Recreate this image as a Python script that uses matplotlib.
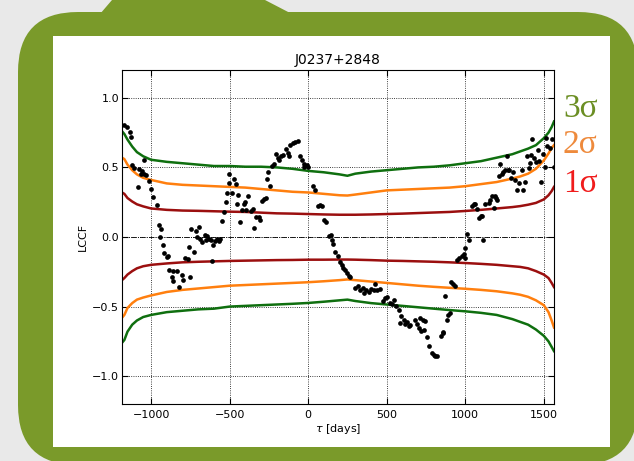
import matplotlib
matplotlib.use('Agg')
import matplotlib.pyplot as plt
from matplotlib.patches import FancyBboxPatch, Rectangle, Polygon

# lag grid for the significance envelopes (days)
tau_env = [-1185, -1170, -1150, -1120, -1090, -1050, -1000, -900, -800, -700,
           -600, -500, -400, -300, -200, -100, 0, 100, 200, 250, 300, 400,
           500, 600, 700, 800, 900, 1000, 1100, 1200, 1300, 1350, 1400, 1450,
           1500, 1530, 1550, 1565]

up3 = [0.76, 0.74, 0.70, 0.65, 0.61, 0.58, 0.555, 0.54, 0.53, 0.52, 0.51, 0.51,
       0.505, 0.505, 0.50, 0.49, 0.475, 0.465, 0.45, 0.44, 0.455, 0.47, 0.48,
       0.49, 0.50, 0.505, 0.515, 0.53, 0.545, 0.57, 0.595, 0.615, 0.635, 0.66,
       0.71, 0.75, 0.79, 0.83]
up2 = [0.57, 0.56, 0.52, 0.48, 0.45, 0.425, 0.41, 0.385, 0.375, 0.37, 0.365,
       0.36, 0.355, 0.345, 0.335, 0.325, 0.32, 0.31, 0.30, 0.298, 0.305, 0.32,
       0.335, 0.34, 0.345, 0.35, 0.355, 0.365, 0.38, 0.395, 0.42, 0.435, 0.455,
       0.49, 0.55, 0.60, 0.64, 0.66]
up1 = [0.32, 0.31, 0.28, 0.255, 0.235, 0.22, 0.205, 0.195, 0.19, 0.188, 0.185,
       0.182, 0.18, 0.175, 0.17, 0.168, 0.165, 0.162, 0.16, 0.16, 0.16, 0.162,
       0.165, 0.168, 0.172, 0.176, 0.18, 0.187, 0.195, 0.205, 0.215, 0.222,
       0.232, 0.245, 0.27, 0.30, 0.33, 0.36]
lo1 = [-0.31, -0.295, -0.27, -0.245, -0.225, -0.21, -0.20, -0.19, -0.182,
       -0.178, -0.175, -0.172, -0.17, -0.168, -0.166, -0.165, -0.163, -0.163,
       -0.162, -0.162, -0.163, -0.166, -0.17, -0.172, -0.175, -0.178, -0.182,
       -0.187, -0.193, -0.20, -0.21, -0.215, -0.225, -0.245, -0.27, -0.295,
       -0.33, -0.36]
lo2 = [-0.58, -0.56, -0.51, -0.475, -0.45, -0.435, -0.42, -0.395, -0.38, -0.37,
       -0.36, -0.35, -0.345, -0.34, -0.335, -0.33, -0.325, -0.318, -0.31,
       -0.305, -0.31, -0.32, -0.33, -0.34, -0.35, -0.358, -0.365, -0.372,
       -0.38, -0.39, -0.405, -0.415, -0.43, -0.455, -0.49, -0.54, -0.60, -0.65]
lo3 = [-0.76, -0.74, -0.68, -0.63, -0.60, -0.575, -0.56, -0.54, -0.53, -0.52,
       -0.515, -0.50, -0.495, -0.49, -0.485, -0.48, -0.474, -0.465, -0.455,
       -0.45, -0.46, -0.475, -0.485, -0.495, -0.505, -0.515, -0.525, -0.534,
       -0.545, -0.56, -0.59, -0.61, -0.63, -0.665, -0.71, -0.75, -0.79, -0.82]

# measured cross-correlation (lag in days, LCCF)
tau_pts = [-1171, -1150, -1133, -1129, -1044, -1120, -1108, -1074, -1057, -1048,
           -1031, -1065, -1014, -1001, -1082, -985, -963, -950, -934, -942,
           -925, -917, -900, -891, -883, -858, -836, -866, -861, -802, -798,
           -819, -751, -781, -768, -759, -726, -743, -713, -692, -705, -688,
           -675, -654, -641, -632, -649, -619, -603, -590, -581, -568, -560,
           -611, -547, -535, -526, -514, -503, -507, -469, -460, -486, -444,
           -452, -435, -422, -409, -401, -393, -380, -363, -350, -342, -333,
           -316, -304, -295, -282, -269, -261, -244, -253, -231, -215, -206,
           -189, -185, -172, -159, -142, -129, -125, -113, -95, -83, -66, -49,
           -36, -27, -24, -6, 2, 32, 45, 62, 78, 91, 100, 115, 132, 148, 153,
           161, 174, 187, 204, 216, 225, 234, 246, 259, 267, 301, 318, 331,
           348, 356, 369, 386, 403, 416, 428, 441, 458, 479, 492, 505, 518,
           535, 547, 560, 577, 594, 586, 607, 619, 632, 649, 641, 679, 692,
           705, 721, 756, 772, 713, 730, 743, 738, 789, 798, 810, 819, 845,
           858, 861, 883, 891, 904, 874, 912, 925, 934, 950, 963, 980, 989,
           998, 1001, 1014, 1027, 1044, 1057, 1061, 1078, 1087, 1099, 1108,
           1116, 1125, 1150, 1159, 1171, 1189, 1197, 1180, 1205, 1214, 1222,
           1231, 1243, 1256, 1265, 1269, 1281, 1294, 1307, 1316, 1329, 1341,
           1362, 1367, 1380, 1392, 1405, 1413, 1418, 1426, 1439, 1451, 1464,
           1469, 1485, 1494, 1507, 1515, 1523, 1541, 1562, 1553]
lccf_pts = [0.807, 0.792, 0.754, 0.721, 0.553, 0.514, 0.496, 0.491, 0.476, 0.453,
            0.443, 0.453, 0.399, 0.347, 0.361, 0.290, 0.232, 0.088, 0.055, 0.002,
            -0.060, -0.118, -0.147, -0.137, -0.237, -0.247, -0.242, -0.285,
            -0.314, -0.271, -0.309, -0.362, -0.285, -0.151, -0.156, -0.070,
            -0.108, 0.055, 0.040, 0.074, 0.002, -0.012, -0.036, 0.017, 0.007,
            -0.012, -0.022, -0.022, -0.060, -0.032, -0.012, -0.027, -0.012,
            -0.175, 0.112, 0.180, 0.251, 0.318, 0.455, 0.388, 0.417, 0.383,
            0.316, 0.302, 0.234, 0.110, 0.191, 0.239, 0.254, 0.191, 0.292,
            0.187, 0.201, 0.062, 0.144, 0.144, 0.119, 0.259, 0.273, 0.277,
            0.417, 0.364, 0.469, 0.507, 0.527, 0.593, 0.565, 0.555, 0.584,
            0.589, 0.632, 0.603, 0.579, 0.661, 0.675, 0.680, 0.690, 0.579,
            0.555, 0.522, 0.503, 0.517, 0.503, 0.369, 0.335, 0.225, 0.230,
            0.220, 0.124, 0.110, 0.004, 0.014, -0.019, -0.053, -0.106, -0.139,
            -0.182, -0.201, -0.221, -0.240, -0.259, -0.278, -0.287, -0.369,
            -0.355, -0.384, -0.369, -0.402, -0.379, -0.398, -0.374, -0.384,
            -0.341, -0.379, -0.374, -0.460, -0.441, -0.431, -0.474, -0.484,
            -0.455, -0.499, -0.527, -0.565, -0.618, -0.599, -0.628, -0.614,
            -0.632, -0.642, -0.599, -0.628, -0.657, -0.675, -0.718, -0.786,
            -0.585, -0.594, -0.603, -0.666, -0.833, -0.848, -0.858, -0.853,
            -0.714, -0.690, -0.680, -0.594, -0.560, -0.546, -0.422, -0.321,
            -0.335, -0.350, -0.163, -0.154, -0.134, -0.125, -0.082, -0.154,
            0.024, -0.024, 0.220, 0.234, 0.239, 0.201, 0.139, 0.148, 0.153,
            -0.024, 0.234, 0.244, 0.263, 0.297, 0.292, 0.277, 0.205, 0.268,
            0.435, 0.527, 0.455, 0.469, 0.478, 0.584, 0.478, 0.483, 0.426,
            0.464, 0.412, 0.340, 0.388, 0.478, 0.335, 0.397, 0.579, 0.493,
            0.532, 0.589, 0.704, 0.570, 0.536, 0.627, 0.546, 0.392, 0.598,
            0.503, 0.713, 0.656, 0.641, 0.503, 0.704]

sigma_labels = ['3\u03c3', '2\u03c3', '1\u03c3']
sigma_text_colors = ['#6b8e23', '#ee8a3c', '#f01c1c']

c3 = '#0f6f0f'
c2 = '#ff7f0e'
c1 = '#9b0f0f'

W, H = 634, 461
olive = '#7a9a2a'
fig = plt.figure(figsize=(W / 100, H / 100), dpi=100, facecolor='#e9e9e9')

# slide background: olive rounded box with a small tab on top, white panel
bg = fig.add_axes([0, 0, 1, 1])
bg.set_xlim(0, W)
bg.set_ylim(H, 0)
bg.axis('off')
bg.add_patch(FancyBboxPatch((18, 12), 620, 453,
                            boxstyle='round,pad=0,rounding_size=60',
                            facecolor=olive, edgecolor='none'))
bg.add_patch(Polygon([(112, 0), (265, 0), (292, 14), (100, 14)],
                     closed=True, facecolor=olive, edgecolor='none'))
bg.add_patch(Rectangle((53, 36), 557, 411, facecolor='white', edgecolor='none'))

# the chart itself
ax = fig.add_axes([122 / W, 1 - 404 / H, (554 - 122) / W, (404 - 70) / H])
ax.grid(True, color='k', linestyle=':', linewidth=0.6)
ax.axhline(0, color='k', linestyle='-.', linewidth=0.6)

ax.plot(tau_env, up3, color=c3, lw=1.8)
ax.plot(tau_env, up2, color=c2, lw=1.8)
ax.plot(tau_env, up1, color=c1, lw=1.8)
ax.plot(tau_env, lo1, color=c1, lw=1.8)
ax.plot(tau_env, lo2, color=c2, lw=1.8)
ax.plot(tau_env, lo3, color=c3, lw=1.8)

ax.plot(tau_pts, lccf_pts, 'o', color='k', ms=3.4, mew=0, zorder=5)

ax.set_xlim(-1185, 1565)
ax.set_ylim(-1.2, 1.2)
ax.set_xticks([-1000, -500, 0, 500, 1000, 1500])
ax.set_yticks([-1.0, -0.5, 0.0, 0.5, 1.0])
ax.tick_params(direction='in', top=True, right=True, labelsize=8, length=4)
ax.tick_params(axis='y', pad=2)
ax.tick_params(axis='x', pad=4)
ax.set_title('J0237+2848', fontsize=10, pad=4)
ax.set_xlabel(r'$\tau$ [days]', fontsize=8, labelpad=2)
ax.set_ylabel('LCCF', fontsize=8, labelpad=3)

# sigma labels on the right
for lab, col, yb in zip(sigma_labels, sigma_text_colors, [117, 153, 192]):
    fig.text(563 / W, 1 - yb / H, lab, color=col, fontsize=24,
             family='Liberation Serif', va='baseline', ha='left')

fig.savefig('out.png', dpi=100, facecolor=fig.get_facecolor())
